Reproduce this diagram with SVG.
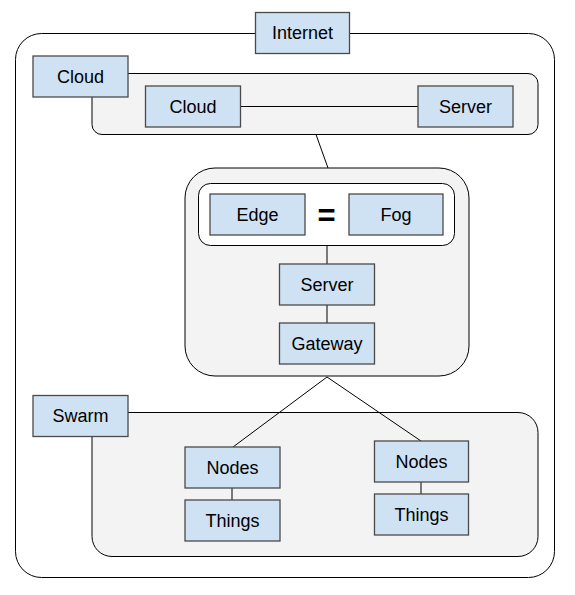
<svg xmlns="http://www.w3.org/2000/svg" width="575" height="595" viewBox="0 0 575 595">
<style>
.box{fill:#cfe2f3;stroke:#4a4a4a;stroke-width:1.3}
.cont{fill:#f3f3f3;stroke:#000;stroke-width:1}
.t{font-family:"Liberation Sans",Arial,sans-serif;font-size:18px;fill:#000;text-anchor:middle}
.ln{stroke:#000;stroke-width:1;fill:none}
</style>
<rect width="575" height="595" fill="#fff"/>
<g id="internet-container"><rect x="15.5" y="33.5" width="539" height="544" rx="26" fill="#fff" stroke="#000"/></g>
<g id="cloud-container"><rect class="cont" x="92" y="73.5" width="446" height="61" rx="10"/></g>
<g id="edge-container"><rect class="cont" x="185" y="168" width="284" height="208" rx="30"/></g>
<g id="edgefog-container"><rect x="198.5" y="183.5" width="256" height="62" rx="12" fill="#fff" stroke="#000"/></g>
<g id="swarm-container"><rect class="cont" x="92" y="412.5" width="446" height="144" rx="20"/></g>
<g id="connectors">
<line class="ln" x1="240" y1="106.5" x2="418" y2="106.5"/>
<line class="ln" x1="316" y1="134.5" x2="328" y2="168"/>
<line class="ln" x1="327" y1="245.5" x2="327" y2="264"/>
<line class="ln" x1="327" y1="305" x2="327" y2="323"/>
<line class="ln" x1="327" y1="377" x2="233" y2="447"/>
<line class="ln" x1="327" y1="377" x2="421" y2="441"/>
<line class="ln" x1="232" y1="488" x2="232" y2="500"/>
<line class="ln" x1="421" y1="482" x2="421" y2="494"/>
</g>
<g id="internet"><rect class="box" x="255.5" y="12.5" width="94" height="41"/><text class="t" x="302.5" y="39">Internet</text></g>
<g id="cloud-label"><rect class="box" x="33" y="56" width="95" height="41"/><text class="t" x="80.5" y="83">Cloud</text></g>
<g id="cloud"><rect class="box" x="145.5" y="86" width="95" height="41"/><text class="t" x="193" y="113">Cloud</text></g>
<g id="server-cloud"><rect class="box" x="418" y="86" width="95" height="41"/><text class="t" x="465.5" y="113">Server</text></g>
<g id="edge"><rect class="box" x="210" y="194" width="95" height="41"/><text class="t" x="257.5" y="221">Edge</text></g>
<g id="equals"><text class="t" x="326.5" y="226" style="font-size:31px;font-weight:bold">=</text></g>
<g id="fog"><rect class="box" x="349" y="194" width="94" height="41"/><text class="t" x="396" y="221">Fog</text></g>
<g id="server-edge"><rect class="box" x="279.5" y="264" width="95" height="41"/><text class="t" x="327" y="291">Server</text></g>
<g id="gateway"><rect class="box" x="279.5" y="323" width="95" height="41"/><text class="t" x="327" y="350">Gateway</text></g>
<g id="swarm-label"><rect class="box" x="33" y="395.5" width="95" height="41"/><text class="t" x="80.5" y="422">Swarm</text></g>
<g id="nodes1"><rect class="box" x="185" y="447" width="95" height="41"/><text class="t" x="232.5" y="474">Nodes</text></g>
<g id="things1"><rect class="box" x="185" y="500" width="95" height="41"/><text class="t" x="232.5" y="527">Things</text></g>
<g id="nodes2"><rect class="box" x="374.5" y="441" width="94" height="41"/><text class="t" x="421.5" y="468">Nodes</text></g>
<g id="things2"><rect class="box" x="374.5" y="494" width="94" height="41"/><text class="t" x="421.5" y="521">Things</text></g>
</svg>
